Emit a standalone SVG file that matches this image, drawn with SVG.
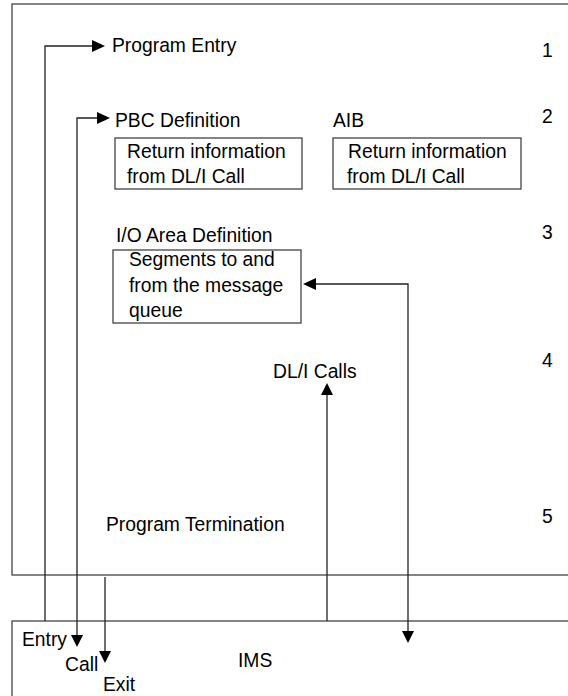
<svg xmlns="http://www.w3.org/2000/svg" width="568" height="696" viewBox="0 0 568 696">
<defs>
<style>
text{font-family:"Liberation Sans",Arial,sans-serif;font-size:19.3px;fill:#000}
.box{fill:none;stroke:#444;stroke-width:1.3}
.ln{fill:none;stroke:#222;stroke-width:1.3}
.ah{fill:#000}
</style>
</defs>
<rect width="568" height="696" fill="#fff"/>
<g id="program">
<rect class="box" x="12" y="4" width="560" height="571"/>
</g>
<g id="ims">
<rect class="box" x="12" y="621" width="560" height="90"/>
<text x="238" y="667">IMS</text>
<text x="22" y="646">Entry</text>
<text x="65" y="671">Call</text>
<text x="103" y="691">Exit</text>
</g>
<g id="program-entry">
<text x="112" y="52">Program Entry</text>
<text x="542" y="57">1</text>
</g>
<g id="pbc">
<text x="115" y="127">PBC Definition</text>
<rect class="box" x="115" y="138" width="187" height="51"/>
<text x="127" y="158">Return information</text>
<text x="127" y="183">from DL/I Call</text>
</g>
<g id="aib">
<text x="333" y="127">AIB</text>
<text x="542" y="123">2</text>
<rect class="box" x="333" y="138" width="188" height="51"/>
<text x="348" y="158">Return information</text>
<text x="347" y="183">from DL/I Call</text>
</g>
<g id="io-area">
<text x="116" y="242">I/O Area Definition</text>
<text x="542" y="239">3</text>
<rect class="box" x="113" y="250" width="188" height="73"/>
<text x="129" y="266">Segments to and</text>
<text x="129" y="292">from the message</text>
<text x="129" y="317">queue</text>
</g>
<g id="dli-calls">
<text x="273" y="378">DL/I Calls</text>
<text x="542" y="367">4</text>
</g>
<g id="termination">
<text x="106" y="531">Program Termination</text>
<text x="542" y="523">5</text>
</g>
<g id="connectors">
<path class="ln" d="M45,621 V46 H93"/>
<path class="ah" d="M105,46 L92,40 V52 Z"/>
<path class="ln" d="M77,635 V118 H98"/>
<path class="ah" d="M110,118 L97,112 V124 Z"/>
<path class="ah" d="M77,647 L71,635 H83 Z"/>
<path class="ln" d="M105,577 V651"/>
<path class="ah" d="M105,663 L99,651 H111 Z"/>
<path class="ln" d="M327,621 V394"/>
<path class="ah" d="M327,383 L321,395 H333 Z"/>
<path class="ln" d="M408,632 V284 H315"/>
<path class="ah" d="M303,284 L316,278 V290 Z"/>
<path class="ah" d="M408,643 L402,631 H414 Z"/>
</g>
</svg>
